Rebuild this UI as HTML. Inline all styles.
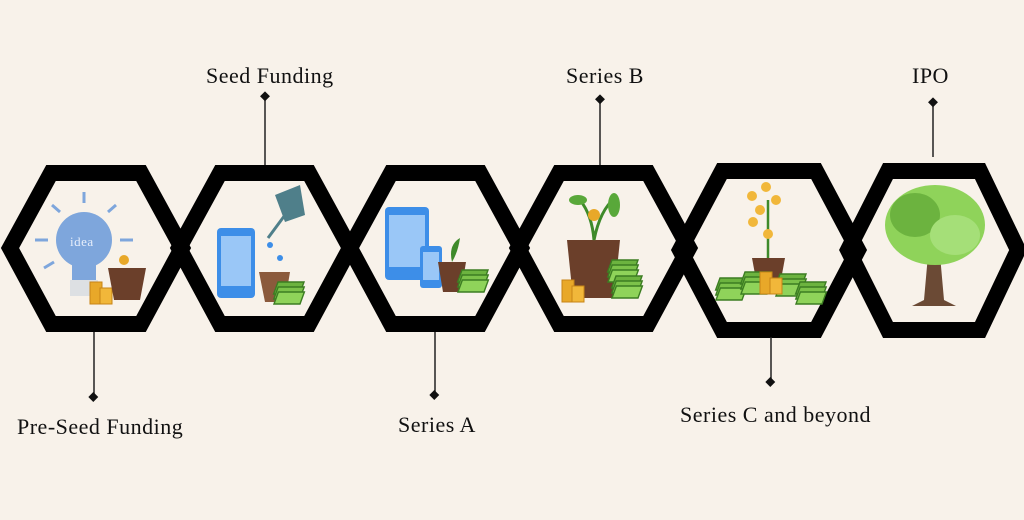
<!DOCTYPE html>
<html><head><meta charset="utf-8"><style>
html,body{margin:0;padding:0;background:#f8f2ea;}
svg{display:block}
text{font-family:"Liberation Serif",serif;font-size:22px;fill:#111;letter-spacing:0.5px}
</style></head><body>
<svg width="1024" height="520" viewBox="0 0 1024 520" xmlns="http://www.w3.org/2000/svg">
<rect width="1024" height="520" fill="#f8f2ea"/>
<defs>
<g id="cash"><rect x="0" y="0" width="26" height="12" fill="#6cb33f" stroke="#3c7d22" stroke-width="1.5" transform="skewX(-20)"/><rect x="2" y="5" width="26" height="12" fill="#7cc24a" stroke="#3c7d22" stroke-width="1.5" transform="skewX(-20)"/><rect x="4" y="10" width="26" height="12" fill="#8fd35a" stroke="#3c7d22" stroke-width="1.5" transform="skewX(-20)"/></g>
<g id="coins"><rect x="0" y="0" width="12" height="22" fill="#e8a829" stroke="#c78416"/><rect x="10" y="6" width="12" height="16" fill="#f1b73a" stroke="#c78416"/></g>
</defs>
<g fill="none" stroke="#000" stroke-width="16" stroke-linejoin="miter">
<polygon points="51,173 141,173 182,248 141,324 51,324 10,248"/>
<polygon points="220,173 309,173 350,248 309,324 220,324 179,248"/>
<polygon points="391,173 480,173 521,248 480,324 391,324 350,248"/>
<polygon points="559,173 648,173 689,248 648,324 559,324 518,248"/>
<polygon points="722,171 816,171 858,250 816,330 722,330 680,250"/>
<polygon points="888,171 980,171 1018,250 980,330 888,330 848,250"/>
</g>
<g stroke="#222" stroke-width="1.5">
<line x1="265" y1="100" x2="265" y2="165"/>
<line x1="94" y1="332" x2="94" y2="396"/>
<line x1="435" y1="332" x2="435" y2="394"/>
<line x1="600" y1="102" x2="600" y2="165"/>
<line x1="771" y1="337" x2="771" y2="381"/>
<line x1="933" y1="104" x2="933" y2="157"/>
</g>
<g fill="#111">
<rect x="261" y="93" width="7" height="7" transform="rotate(45 265 97)"/>
<rect x="90" y="394" width="7" height="7" transform="rotate(45 94 397)"/>
<rect x="431" y="392" width="7" height="7" transform="rotate(45 435 395)"/>
<rect x="596" y="96" width="7" height="7" transform="rotate(45 600 100)"/>
<rect x="767" y="379" width="7" height="7" transform="rotate(45 771 382)"/>
<rect x="929" y="99" width="7" height="7" transform="rotate(45 933 103)"/>
</g>
<text x="206" y="83">Seed Funding</text>
<text x="566" y="83">Series B</text>
<text x="912" y="83">IPO</text>
<text x="17" y="434">Pre-Seed Funding</text>
<text x="398" y="432">Series A</text>
<text x="680" y="422">Series C and beyond</text>
<g>
<circle cx="84" cy="240" r="28" fill="#7ea6dc"/>
<rect x="72" y="262" width="24" height="20" fill="#7ea6dc"/>
<rect x="70" y="280" width="28" height="16" fill="#dde0e3"/>
<text x="70" y="246" style="font-size:13px;fill:#e6eefb">idea</text>
<g stroke="#7ea6dc" stroke-width="3"><line x1="84" y1="192" x2="84" y2="203"/><line x1="35" y1="240" x2="48" y2="240"/><line x1="120" y1="240" x2="133" y2="240"/><line x1="52" y1="205" x2="60" y2="212"/><line x1="116" y1="205" x2="108" y2="212"/><line x1="44" y1="268" x2="54" y2="262"/></g>
<use href="#coins" x="90" y="282"/>
<path d="M108 268 L146 268 L140 300 L114 300 Z" fill="#6b3f2a"/>
<circle cx="124" cy="260" r="5" fill="#e8a829"/>
</g>
<g>
<rect x="217" y="228" width="38" height="70" rx="4" fill="#3d8ee8"/>
<rect x="221" y="236" width="30" height="50" fill="#9ac7f7"/>
<path d="M275 195 L300 185 L305 215 L285 222 Z" fill="#4f7f8a"/>
<line x1="285" y1="215" x2="268" y2="238" stroke="#4f7f8a" stroke-width="3"/>
<circle cx="270" cy="245" r="3" fill="#3d8ee8"/><circle cx="280" cy="258" r="3" fill="#3d8ee8"/>
<path d="M259 272 L290 272 L285 302 L265 302 Z" fill="#8b5a3c"/>
<use href="#cash" x="278" y="282"/>
</g>
<g>
<rect x="385" y="207" width="44" height="73" rx="4" fill="#3d8ee8"/>
<rect x="389" y="215" width="36" height="52" fill="#9ac7f7"/>
<rect x="420" y="246" width="22" height="42" rx="3" fill="#3d8ee8"/>
<rect x="423" y="252" width="16" height="28" fill="#9ac7f7"/>
<path d="M438 262 L466 262 L461 292 L443 292 Z" fill="#6b3f2a"/>
<path d="M452 262 Q448 245 460 238 Q458 252 452 262" fill="#3e8a2a"/>
<use href="#cash" x="462" y="270"/>
</g>
<g>
<path d="M567 240 L620 240 L614 298 L573 298 Z" fill="#6b3f2a"/>
<path d="M594 240 Q592 215 580 200 M594 240 Q600 210 615 198" stroke="#3e8a2a" stroke-width="3" fill="none"/>
<ellipse cx="578" cy="200" rx="9" ry="5" fill="#59a83a"/><ellipse cx="614" cy="205" rx="6" ry="12" fill="#59a83a"/>
<circle cx="594" cy="215" r="6" fill="#e8a829"/>
<use href="#coins" x="562" y="280"/>
<use href="#cash" x="612" y="260"/><use href="#cash" x="616" y="276"/>
</g>
<g>
<path d="M752 258 L785 258 L780 285 L757 285 Z" fill="#6b3f2a"/>
<line x1="768" y1="258" x2="768" y2="200" stroke="#3e8a2a" stroke-width="2.5"/>
<g fill="#f1b73a"><circle cx="766" cy="187" r="5"/><circle cx="752" cy="196" r="5"/><circle cx="776" cy="200" r="5"/><circle cx="760" cy="210" r="5"/><circle cx="768" cy="234" r="5"/><circle cx="753" cy="222" r="5"/></g>
<use href="#cash" x="720" y="278"/><use href="#cash" x="745" y="272"/><use href="#cash" x="780" y="274"/><use href="#cash" x="800" y="282"/>
<use href="#coins" x="760" y="272"/>
</g>
<g>
<path d="M928 255 L940 255 L944 300 L956 306 L912 306 L924 300 Z" fill="#6b4a35"/>
<ellipse cx="935" cy="225" rx="50" ry="40" fill="#8fd35a"/>
<ellipse cx="915" cy="215" rx="25" ry="22" fill="#6cb33f"/>
<ellipse cx="955" cy="235" rx="25" ry="20" fill="#a5df78"/>
</g>
</svg>
</body></html>
